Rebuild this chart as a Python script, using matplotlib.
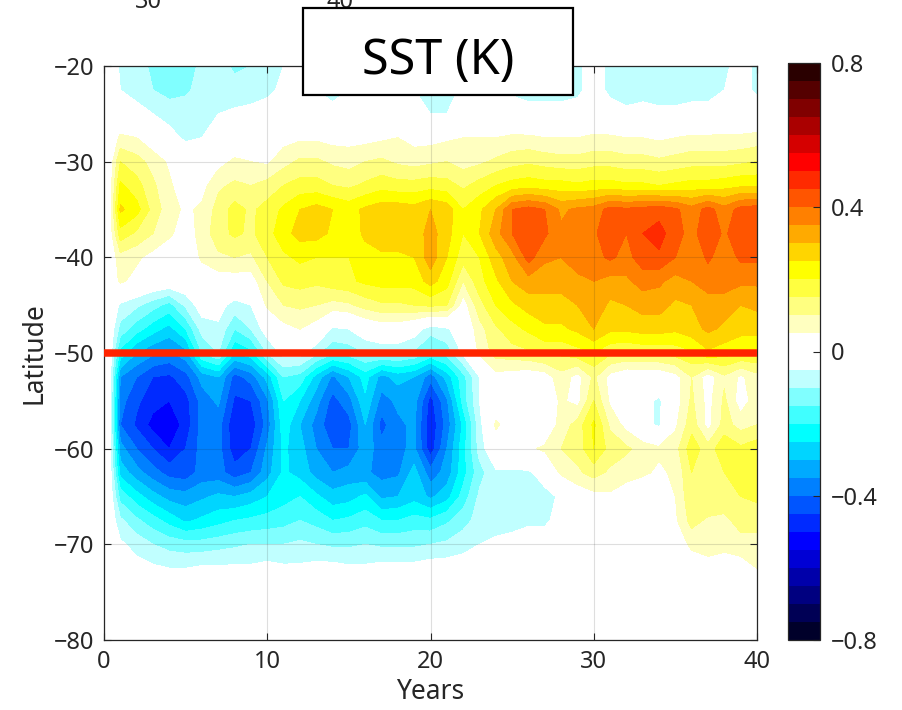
import numpy as np
import matplotlib.pyplot as plt
from matplotlib.patches import Rectangle

plt.rcParams['font.family'] = ['Noto Sans', 'DejaVu Sans']

# data: SST anomaly (hundredths of K), rows = latitude (north -> south), cols = years
years = np.concatenate(([0.3], np.arange(1, 41)))
lats = np.arange(-20, -76, -2.5)
sst_rows = [
    "0 -6 -8 -11 -12 -12 -9 -8 -11 -10 -7  -5 -3 -6 -6 -5 -4 -3 -3 -4 -6  -6 -4 -3 -4 -6 -6 -6 -7 -6 -3  -6 -7 -7 -7 -7 -7 -7 -6 -3 -6",
    "0 -5 -7 -10 -12 -11 -8 -7 -8 -8 -6  -4 -2 -5 -7 -5 -3 -2 -3 -5 -7  -7 -4 -2 -3 -6 -7 -7 -7 -6 -3  -6 -7 -7 -7 -7 -7 -7 -5 -3 -6",
    "0 -1 -3 -5 -7 -7 -6 -5 -4 -3 -3  -2 -2 -3 -3 -2 -1 0 0 -2 -5  -5 -2 0 -1 -2 -3 -3 -3 -3 -1  -3 -4 -3 -4 -4 -3 -3 -2 -1 -2",
    "0 6 5 1 -3 -6 -5 -2 0 1 2  3 4 4 3 3 3 4 5 3 3  4 5 5 5 6 6 5 5 5 6  6 5 5 4 5 6 6 6 6 7",
    "0 15 12 8 4 0 -1 3 6 5 4  8 11 11 9 8 10 11 9 8 9  10 8 9 11 13 14 13 12 12 13  13 12 12 11 12 13 13 13 14 15",
    "0 21 17 11 6 1 3 9 11 10 12  15 17 17 15 14 16 18 17 17 18  17 14 17 20 22 23 22 22 21 22  22 21 21 20 21 22 22 23 24 24",
    "0 26 22 13 7 4 6 12 17 14 17  21 25 27 25 23 26 28 28 27 30  28 20 24 30 40 42 40 34 36 37  42 41 42 43 41 37 42 37 42 43",
    "0 18 14 10 6 2 7 13 16 14 18  23 27 27 24 22 26 28 28 27 32  27 20 25 33 40 44 41 36 38 39  44 40 45 47 42 38 44 39 44 44",
    "0 8 6 3 1 0 6 9 10 9 15  19 21 20 20 20 23 24 24 25 33  25 17 20 28 33 42 36 35 37 38  41 38 43 44 40 36 41 37 41 41",
    "0 6 3 1 0 0 1 2 2 2 10  16 17 16 18 19 21 22 22 22 27  22 10 18 24 30 33 32 32 34 35  33 34 37 36 33 35 37 38 36 36",
    "0 -6 -9 -13 -17 -9 -2 -3 -7 -5 6  10 11 10 8 9 12 14 14 15 16  15 2 13 20 24 27 28 28 30 33  29 30 32 32 29 30 33 32 30 31",
    "0 -12 -18 -23 -27 -20 -8 -6 -15 -10 -2  3 5 2 -6 -5 -1 1 1 -2 -8  -6 -1 8 14 18 21 24 24 26 30  26 26 27 27 26 28 31 29 27 27",
    "0 -22 -30 -34 -36 -32 -15 -10 -25 -22 -10  -3 -3 -9 -14 -13 -10 -9 -9 -11 -16  -13 -4 6 12 13 14 16 16 18 20  16 15 16 16 17 19 24 22 20 20",
    "0 -35 -40 -45 -46 -42 -33 -30 -42 -38 -28  -15 -17 -27 -36 -30 -23 -32 -28 -30 -38  -28 -17 -5 3 2 1 2 8 3 11  3 0 0 0 3 10 2 9 4 8",
    "0 -38 -44 -48 -50 -47 -38 -34 -46 -45 -36  -20 -25 -33 -42 -37 -26 -37 -34 -33 -47  -36 -18 -5 0 0 0 0 6 3 15  4 0 -3 -6 2 11 3 11 2 8",
    "0 -40 -46 -52 -54 -48 -38 -38 -49 -48 -38  -22 -30 -37 -44 -42 -30 -42 -36 -34 -49  -38 -24 -7 6 2 0 0 7 12 21  9 3 -3 -6 4 13 3 12 8 10",
    "0 -33 -40 -45 -50 -45 -38 -38 -48 -45 -34  -24 -28 -35 -40 -40 -32 -38 -36 -34 -48  -35 -22 -8 1 2 4 6 10 12 20  13 11 8 6 8 18 12 19 16 18",
    "0 -27 -33 -38 -42 -43 -38 -38 -43 -40 -32  -24 -27 -32 -35 -33 -34 -37 -36 -28 -38  -33 -22 -12 -6 -6 -6 -2 6 9 12  9 7 6 4 6 15 14 15 16 17",
    "0 -17 -23 -28 -32 -33 -31 -29 -30 -28 -25  -22 -20 -24 -28 -27 -24 -31 -30 -27 -31  -27 -18 -9 -7 -6 -7 -7 -4 1 3  4 2 0 1 5 14 15 15 15 16",
    "0 -9 -14 -18 -22 -26 -24 -22 -20 -19 -18  -17 -15 -17 -20 -19 -17 -20 -20 -18 -19  -16 -12 -8 -7 -7 -6 -6 -3 0 1  2 1 0 0 4 12 9 8 13 12",
    "0 -4 -7 -10 -12 -13 -13 -12 -11 -10 -10  -10 -9 -10 -11 -11 -10 -11 -11 -11 -10  -9 -7 -5 -4 -3 -2 -2 -1 0 0  0 0 0 0 2 6 7 6 7 8",
    "0 -2 -3 -4 -5 -5 -4 -4 -4 -4 -3  -4 -4 -3 -3 -4 -4 -3 -3 -3 -2  -2 -2 -1 -1 0 0 0 0 0 0  0 0 0 0 0 2 3 3 3 5",
    "0 0 0 0 0 0 0 0 0 0 0  0 0 0 0 0 0 0 0 0 0  0 0 0 0 0 0 0 0 0 0  0 0 0 0 0 0 0 0 0 0",
]
sst = np.array([[float(v) for v in r.split()] for r in sst_rows]) / 100.0

levels = np.linspace(-0.8, 0.8, 33)
band_colors = [
    '#00002a', '#000055', '#000080', '#0000aa', '#0000d5', '#0000ff', '#002aff', '#0055ff',
    '#0080ff', '#00aaff', '#00d5ff', '#00ffff', '#40ffff', '#80ffff', '#c0ffff', '#ffffff',
    '#ffffff', '#ffffc0', '#ffff80', '#ffff40', '#ffff00', '#ffd500', '#ffaa00', '#ff8000',
    '#ff5500', '#ff2a00', '#ff0000', '#d50000', '#aa0000', '#800000', '#550000', '#2a0000',
]
cbar_ticks = [-0.8, -0.4, 0, 0.4, 0.8]
cbar_labels = ['\u22120.8', '\u22120.4', '0', '0.4', '0.8']
ref_lat = -50
top_labels = ['30', '40']
top_label_x = [148, 340]

ink = '#262626'
fig = plt.figure(figsize=(9.03, 7.1), dpi=100)
ax = fig.add_axes([104 / 903, 70 / 710, 653 / 903, 574 / 710])
cax = fig.add_axes([788 / 903, 70 / 710, 32 / 903, 577 / 710])

cf = ax.contourf(years, lats, sst, levels=levels, colors=band_colors, zorder=1)
ax.axhline(ref_lat, color='#ff2400', lw=5.4, solid_capstyle='butt', zorder=3)

ax.set_xlim(0, 40)
ax.set_ylim(-80, -20)
ax.set_xticks([0, 10, 20, 30, 40])
ax.set_yticks([-80, -70, -60, -50, -40, -30, -20])
ax.set_yticklabels([f'\u2212{abs(v)}' for v in [-80, -70, -60, -50, -40, -30, -20]])
ax.set_axisbelow(False)
ax.grid(True, color=ink, alpha=0.15, lw=0.8)
ax.tick_params(direction='in', length=5, width=0.8, colors=ink, labelsize=17,
               top=True, right=True, pad=7)
for s in ax.spines.values():
    s.set_color(ink)
    s.set_linewidth(0.9)
ax.set_xlabel('Years', fontsize=19, color=ink, labelpad=3)
ax.set_ylabel('Latitude', fontsize=19, color=ink, labelpad=4)

cb = fig.colorbar(cf, cax=cax, ticks=cbar_ticks)
cb.set_ticklabels(cbar_labels)
cb.ax.tick_params(direction='in', length=5, width=0.8, colors=ink, labelsize=17, pad=8)
cb.outline.set_edgecolor(ink)
cb.outline.set_linewidth(0.9)

# cut-off tick labels of the panel above
for lab, px in zip(top_labels, top_label_x):
    fig.text(px / 903, 1 - 8 / 710, lab, ha='center', va='baseline', fontsize=17, color=ink)

# boxed title
fig.add_artist(Rectangle((303 / 903, 1 - 95 / 710), 270 / 903, 87 / 710,
                         transform=fig.transFigure, facecolor='white',
                         edgecolor='black', lw=1.6, zorder=10))
fig.text(438 / 903, 1 - 74 / 710, 'SST (K)', ha='center', va='baseline',
         fontsize=35, color='black', zorder=11)

fig.savefig('out.png', dpi=100)
